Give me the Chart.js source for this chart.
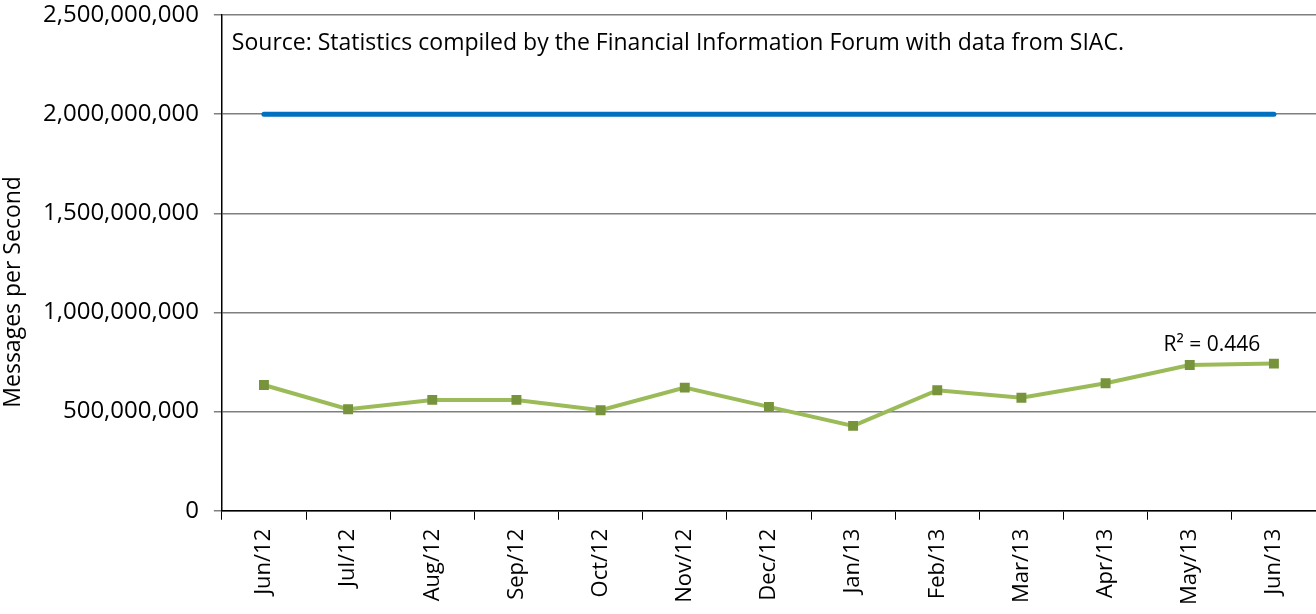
<!DOCTYPE html>
<html>
<head>
<meta charset="utf-8">
<script src="https://cdn.jsdelivr.net/npm/chart.js@4.4.1/dist/chart.umd.min.js"></script>
<style>
  html, body { margin: 0; padding: 0; background: #fff; }
  #wrap { width: 1316px; height: 614px; position: relative; }
</style>
</head>
<body>
<div id="wrap"><canvas id="msgChart"></canvas></div>
<script>
const months = ['Jun/12', 'Jul/12', 'Aug/12', 'Sep/12', 'Oct/12', 'Nov/12', 'Dec/12',
  'Jan/13', 'Feb/13', 'Mar/13', 'Apr/13', 'May/13', 'Jun/13'];
const peakMessages = [634000000, 512000000, 559000000, 559000000, 507000000, 621000000, 524000000,
  428000000, 608000000, 570000000, 643000000, 735000000, 742000000];
const capacity = [2000000000, 2000000000, 2000000000, 2000000000, 2000000000, 2000000000, 2000000000,
  2000000000, 2000000000, 2000000000, 2000000000, 2000000000, 2000000000];
const yTicks = [0, 500000000, 1000000000, 1500000000, 2000000000, 2500000000];
const yTitle = 'Messages per Second';
const sourceNote = 'Source: Statistics compiled by the Financial Information Forum with data from SIAC.';
const rSquared = 'R\u00b2 = 0.446';

const FONT = '"Open Sans", sans-serif';

// source note, trendline R² label and the y title (sits a bit low in the original)
const notes = {
  id: 'notes',
  afterDatasetsDraw(chart) {
    const { ctx, chartArea, scales } = chart;
    ctx.save();
    ctx.fillStyle = '#000';
    ctx.font = '23px ' + FONT;
    ctx.textBaseline = 'alphabetic';
    ctx.textAlign = 'left';
    ctx.fillText(sourceNote, chartArea.left + 10, chartArea.top + 35);
    ctx.font = '21px ' + FONT;
    ctx.textAlign = 'center';
    const x = (scales.x.getPixelForValue(11) + scales.x.getPixelForValue(12)) / 2 - 20;
    ctx.fillText(rSquared, x, scales.y.getPixelForValue(805000000));
    ctx.restore();
  },
  afterDraw(chart) {
    const { ctx, chartArea } = chart;
    ctx.save();
    ctx.fillStyle = '#000';
    ctx.font = '23px ' + FONT;
    ctx.textAlign = 'center';
    ctx.textBaseline = 'middle';
    ctx.translate(13, (chartArea.top + chartArea.bottom) / 2 + 29);
    ctx.rotate(-Math.PI / 2);
    ctx.fillText(yTitle, 0, 0);
    ctx.restore();
  }
};

new Chart(document.getElementById('msgChart'), {
  type: 'line',
  data: {
    labels: months,
    datasets: [{
      label: 'Capacity',
      data: capacity,
      borderColor: '#0070C0',
      borderWidth: 5,
      borderCapStyle: 'round',
      pointRadius: 0,
      tension: 0
    }, {
      label: 'Peak Messages per Second',
      data: peakMessages,
      borderColor: '#9BBB59',
      borderWidth: 4,
      pointStyle: 'rect',
      pointRadius: 7,
      pointBackgroundColor: '#77933C',
      pointBorderColor: '#77933C',
      pointBorderWidth: 0,
      tension: 0
    }]
  },
  options: {
    responsive: true,
    maintainAspectRatio: false,
    animation: false,
    layout: { autoPadding: false, padding: { top: 0, right: 0, bottom: 0, left: 28 } },
    plugins: { legend: { display: false }, tooltip: { enabled: false } },
    scales: {
      x: {
        offset: true,
        afterFit(scale) { scale.paddingLeft = 0; scale.paddingRight = 0; },
        grid: { display: true, drawOnChartArea: false, color: '#000', tickLength: 9, offset: true },
        border: { color: '#000', width: 1.5 },
        ticks: {
          color: '#000',
          font: { family: FONT, size: 22 },
          maxRotation: 90,
          minRotation: 90,
          padding: 9,
          autoSkip: false
        }
      },
      y: {
        min: 0,
        max: 2500000000,
        afterBuildTicks(axis) { axis.ticks = yTicks.map(v => ({ value: v })); },
        afterFit(scale) { scale.paddingTop = 15; },
        grid: { color: '#7f7f7f', lineWidth: 1.5, tickLength: 8 },
        border: { color: '#000', width: 1.5 },
        ticks: {
          color: '#000',
          font: { family: FONT, size: 24 },
          padding: 15,
          callback: v => v.toLocaleString('en-US')
        }
      }
    }
  },
  plugins: [notes]
});
</script>
</body>
</html>
